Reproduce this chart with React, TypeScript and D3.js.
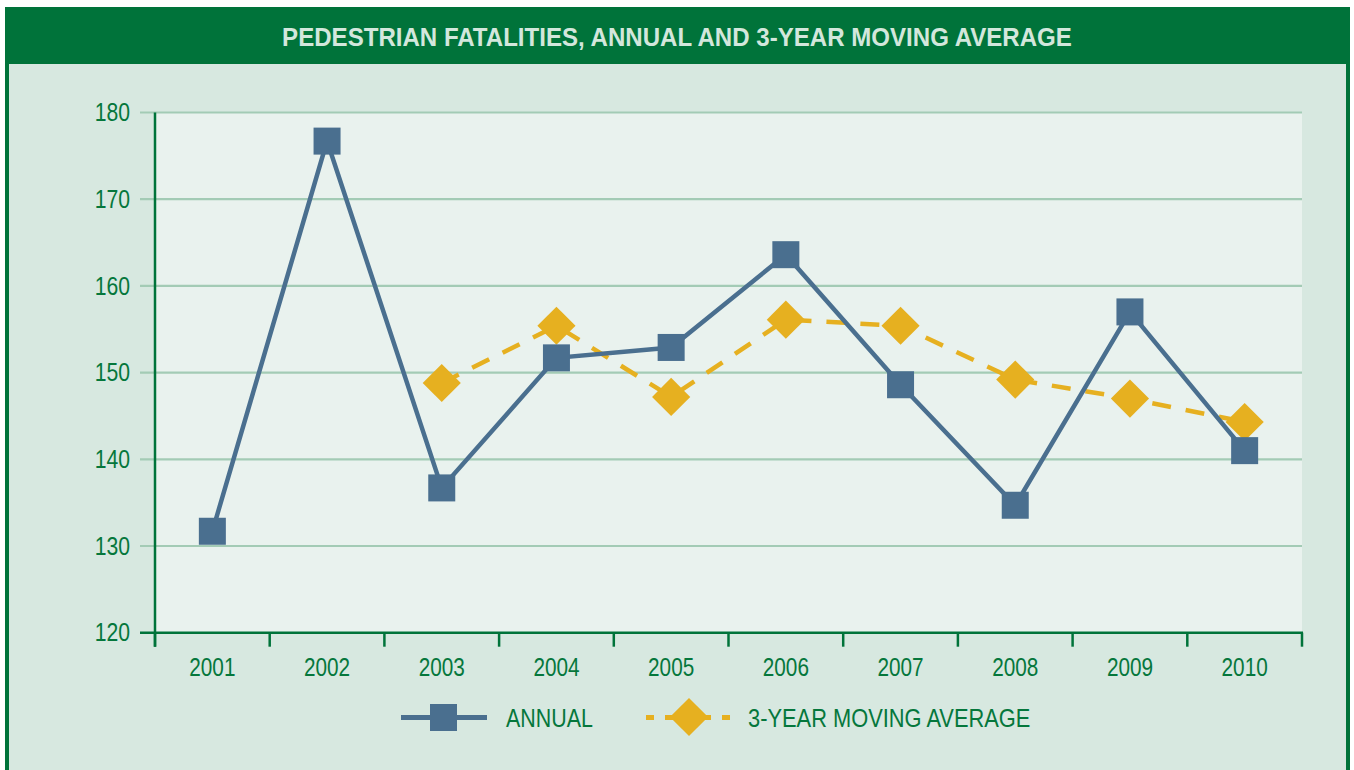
import React from 'react';
import * as d3 from 'd3';

const years = ['2001', '2002', '2003', '2004', '2005', '2006', '2007', '2008', '2009', '2010'];
const annual = [131.7, 176.7, 136.7, 151.7, 152.9, 163.6, 148.6, 134.7, 157.0, 141.0];
const movingAvg: (number | null)[] = [null, null, 148.8, 155.4, 147.2, 156.1, 155.4, 149.2, 147.0, 144.3];
const yTicks = [120, 130, 140, 150, 160, 170, 180];
const title = 'PEDESTRIAN FATALITIES, ANNUAL AND 3-YEAR MOVING AVERAGE';
const legendLabels = ['ANNUAL', '3-YEAR MOVING AVERAGE'];

const W = 1354;
const H = 770;
const FONT = "'Liberation Sans', Arial, sans-serif";
const GREEN = '#00733a';
const TEXT = '#05773c';
const BLUE = '#4a6f8f';
const GOLD = '#e6b020';
const GRID = '#a3cbb5';

function NText(props: {
  x: number; y: number; sx: number; anchor?: 'start' | 'middle' | 'end';
  size: number; fill: string; bold?: boolean; children: React.ReactNode;
}) {
  const { x, y, sx, anchor = 'start', size, fill, bold, children } = props;
  return (
    <g transform={`translate(${x},${y}) scale(${sx},1)`}>
      <text x={0} y={0} textAnchor={anchor} dominantBaseline="central" fontSize={size}
        fontWeight={bold ? 'bold' : 'normal'} fill={fill}>
        {children}
      </text>
    </g>
  );
}

export default function App() {
  const left = 155, right = 1302, top = 112.5, bottom = 632.7;
  const x = d3.scaleBand<string>().domain(years).range([left, right]);
  const y = d3.scaleLinear().domain([120, 180]).range([bottom, top]);
  const cx = (i: number) => (x(years[i]) as number) + x.bandwidth() / 2;

  const lineA = d3.line<number>().x((_, i) => cx(i)).y(d => y(d));
  const maPts = movingAvg
    .map((v, i) => ({ v, i }))
    .filter(p => p.v !== null) as { v: number; i: number }[];
  const lineM = d3.line<{ v: number; i: number }>().x(p => cx(p.i)).y(p => y(p.v));

  const sq = 27;
  const boundaries = [...years.map(yr => x(yr) as number), right];

  return (
    <svg width={W} height={H} style={{ position: 'absolute', left: 0, top: 0 }} fontFamily={FONT}>
      <rect x={5} y={7} width={1345} height={H} fill={GREEN} />
      <rect x={9} y={64} width={1337} height={H} fill="#d7e8e0" />
      <NText x={677} y={37} sx={0.926} anchor="middle" size={26} fill="#d3e7dc" bold>{title}</NText>

      <rect x={left} y={top} width={right - left} height={bottom - top} fill="#e9f2ee" />

      {yTicks.filter(t => t !== 120).map(t => (
        <line key={t} x1={140} x2={right} y1={y(t)} y2={y(t)} stroke={GRID} strokeWidth={2.2} />
      ))}
      {yTicks.map(t => (
        <NText key={'l' + t} x={130} y={y(t)} sx={0.83} anchor="end" size={25.5} fill={TEXT}>{t}</NText>
      ))}

      <line x1={left} x2={left} y1={top} y2={bottom + 14} stroke={GREEN} strokeWidth={2.5} />
      <line x1={140} x2={right + 1} y1={bottom} y2={bottom} stroke={GREEN} strokeWidth={2.5} />
      {boundaries.map((b, i) => (
        <line key={'t' + i} x1={b} x2={b} y1={bottom} y2={bottom + 14} stroke={GREEN} strokeWidth={2.5} />
      ))}
      {years.map((yr, i) => (
        <NText key={yr} x={cx(i)} y={667} sx={0.83} anchor="middle" size={25} fill={TEXT}>{yr}</NText>
      ))}

      <path d={lineM(maPts) || ''} fill="none" stroke={GOLD} strokeWidth={4.5} strokeDasharray="19,15" />
      {maPts.map(p => (
        <rect key={'m' + p.i} x={-sq / 2} y={-sq / 2} width={sq} height={sq} fill={GOLD}
          transform={`translate(${cx(p.i)},${y(p.v)}) rotate(45)`} />
      ))}

      <path d={lineA(annual) || ''} fill="none" stroke={BLUE} strokeWidth={4.5} />
      {annual.map((v, i) => (
        <rect key={'a' + i} x={cx(i) - sq / 2} y={y(v) - sq / 2} width={sq} height={sq} fill={BLUE} />
      ))}

      <line x1={401} x2={487} y1={717.5} y2={717.5} stroke={BLUE} strokeWidth={5} />
      <rect x={430} y={704} width={27} height={27} fill={BLUE} />
      <NText x={506} y={718} sx={0.84} size={25.5} fill={TEXT}>{legendLabels[0]}</NText>

      <line x1={646} x2={730} y1={717.5} y2={717.5} stroke={GOLD} strokeWidth={5} strokeDasharray="8,11" />
      <rect x={-13.5} y={-13.5} width={27} height={27} fill={GOLD} transform="translate(689,717) rotate(45)" />
      <NText x={748} y={718} sx={0.857} size={25.5} fill={TEXT}>{legendLabels[1]}</NText>
    </svg>
  );
}
